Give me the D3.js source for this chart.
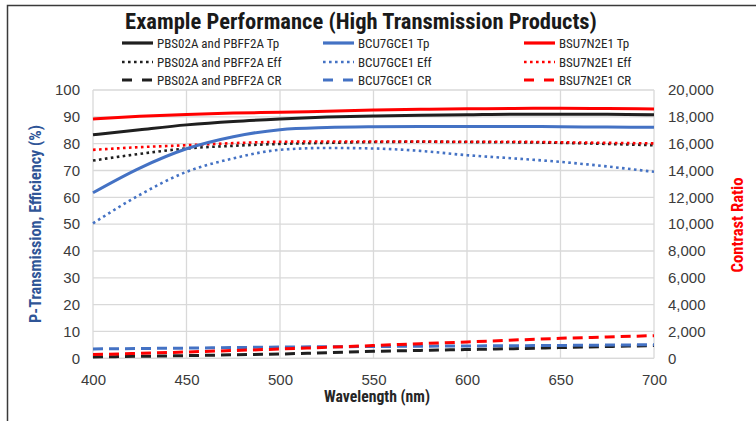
<!DOCTYPE html>
<html><head><meta charset="utf-8">
<script src="https://cdn.jsdelivr.net/npm/d3@7"></script>
<style>
html,body{margin:0;padding:0;background:#fff;}
svg{display:block;font-family:"Liberation Sans Narrow","Roboto Condensed","Liberation Sans",sans-serif;}
</style></head>
<body><svg id="c" width="756" height="421"></svg>
<script>
const wavelengths = [400,425,450,475,500,525,550,575,600,625,650,675,700];
const pbsTp  = [83.3,85.2,87.0,88.3,89.2,89.9,90.3,90.6,90.8,91.0,91.0,91.0,90.8];
const bcuTp  = [61.7,70.9,78.1,82.6,85.2,86.0,86.3,86.4,86.4,86.4,86.3,86.2,86.1];
const bsuTp  = [89.2,90.2,90.9,91.4,91.7,92.1,92.5,92.8,93.0,93.1,93.2,93.1,92.9];
const pbsEff = [73.7,76.2,78.2,79.2,79.9,80.3,80.6,80.7,80.6,80.5,80.3,79.9,79.4];
const bcuEff = [50.3,60.9,69.5,74.5,77.7,78.4,78.2,77.3,75.7,74.5,73.2,71.5,69.5];
const bsuEff = [77.7,78.7,79.4,80.2,80.7,80.8,80.8,80.8,80.7,80.7,80.5,80.3,80.1];
const pbsCR  = [100,150,200,260,320,420,520,590,650,720,800,880,950];
const bcuCR  = [700,730,760,800,840,860,880,900,920,940,960,985,1010];
const bsuCR  = [280,370,470,580,690,820,950,1090,1220,1360,1490,1590,1690];
const leftTicks = [0,10,20,30,40,50,60,70,80,90,100];
const rightTicks = [0,2000,4000,6000,8000,10000,12000,14000,16000,18000,20000];
const xTicks = [400,450,500,550,600,650,700];
const legendNames = ["PBS02A and PBFF2A Tp","BCU7GCE1 Tp","BSU7N2E1 Tp",
  "PBS02A and PBFF2A Eff","BCU7GCE1 Eff","BSU7N2E1 Eff",
  "PBS02A and PBFF2A CR","BCU7GCE1 CR","BSU7N2E1 CR"];

const BLACK="#1f1f1f", BLUE="#4472c4", RED="#ff0000";
const svg = d3.select("#c");
const L=93, R=654, T=90, B=358.3;
const x = d3.scaleLinear().domain([400,700]).range([L,R]);
const yL = d3.scaleLinear().domain([0,100]).range([B,T]);
const yR = d3.scaleLinear().domain([0,20000]).range([B,T]);

// fit a text's font size so that its width matches a target width
function fit(sel, target){
  const n = sel.node(); const w = n.getComputedTextLength();
  const fs = parseFloat(sel.attr("font-size"));
  if (w>0) sel.attr("font-size", (fs*target/w).toFixed(2));
  return sel;
}

// outer frame (cropped)
svg.append("path").attr("d","M7.5,421 V5.5 H756").attr("fill","none").attr("stroke","#3a3a3a").attr("stroke-width",1.5);

// gridlines
svg.append("g").selectAll("line").data(leftTicks).join("line")
  .attr("x1",L).attr("x2",R).attr("y1",d=>yL(d)).attr("y2",d=>yL(d))
  .attr("stroke","#d9d9d9").attr("stroke-width",1.3);
svg.append("g").selectAll("line").data(xTicks).join("line")
  .attr("x1",d=>x(d)).attr("x2",d=>x(d)).attr("y1",T).attr("y2",B)
  .attr("stroke","#d9d9d9").attr("stroke-width",1.3);

// axes
const ax = svg.append("g").attr("transform",`translate(0,${B})`)
  .call(d3.axisBottom(x).tickValues(xTicks).tickSize(0).tickPadding(16));
const al = svg.append("g").attr("transform",`translate(${L},0)`)
  .call(d3.axisLeft(yL).tickValues(leftTicks).tickSize(0).tickPadding(13));
const ar = svg.append("g").attr("transform",`translate(${R},0)`)
  .call(d3.axisRight(yR).tickValues(rightTicks).tickSize(0).tickPadding(14).tickFormat(d3.format(",")));
[ax,al,ar].forEach(g=>{g.select(".domain").remove();
  g.selectAll("text").attr("font-size",15).attr("fill","#3b3b3b").attr("font-family","inherit");});
svg.append("line").attr("x1",L).attr("x2",R).attr("y1",B).attr("y2",B).attr("stroke","#d9d9d9").attr("stroke-width",1.3);

// series
const series = [
  {v:pbsCR, s:"r", c:BLACK, t:"dash"},
  {v:bcuCR, s:"r", c:BLUE, t:"dash"},
  {v:bsuCR, s:"r", c:RED, t:"dash"},
  {v:bcuEff, s:"l", c:BLUE, t:"dot"},
  {v:pbsEff, s:"l", c:BLACK, t:"dot"},
  {v:bsuEff, s:"l", c:RED, t:"dot"},
  {v:bcuTp, s:"l", c:BLUE, t:"solid"},
  {v:pbsTp, s:"l", c:BLACK, t:"solid"},
  {v:bsuTp, s:"l", c:RED, t:"solid"}
];
const dash = {solid:null, dot:"2.6 3.4", dash:"10 6"};
series.forEach(sr=>{
  const ys = sr.s==="l"?yL:yR;
  const line = d3.line().x((d,i)=>x(wavelengths[i])).y(d=>ys(d)).curve(d3.curveMonotoneX);
  svg.append("path").attr("d",line(sr.v)).attr("fill","none")
    .attr("stroke",sr.c).attr("stroke-width",sr.t==="dot"?2.6:3)
    .attr("stroke-dasharray",dash[sr.t]);
});

// title
fit(svg.append("text").attr("x",361).attr("y",29).attr("text-anchor","middle")
  .attr("font-size",22).attr("font-weight","bold").attr("fill","#1a1a1a")
  .text("Example Performance (High Transmission Products)"), 472);

// legend
const colX=[122,323,524], rowY=[43,62,80];
const legCol=[BLACK,BLUE,RED];
legendNames.forEach((n,i)=>{
  const col=i%3,row=Math.floor(i/3);
  const lx=colX[col], ly=rowY[row];
  svg.append("line").attr("x1",lx).attr("x2",lx+31).attr("y1",ly).attr("y2",ly)
    .attr("stroke",legCol[col]).attr("stroke-width",row===1?2.6:3.2)
    .attr("stroke-dasharray",row===0?null:(row===1?"2.6 3.4":"10 10"));
  svg.append("text").attr("x",lx+35).attr("y",ly+4.5).attr("font-size",13)
    .attr("fill","#262626").text(n);
});

// axis titles
fit(svg.append("text").attr("x",377).attr("y",402).attr("text-anchor","middle")
  .attr("font-size",14).attr("font-weight","bold").attr("fill","#262626").text("Wavelength (nm)"), 106);
fit(svg.append("text").attr("transform","translate(41,224) rotate(-90)").attr("text-anchor","middle")
  .attr("font-size",15).attr("font-weight","bold").attr("fill","#2f5597").text("P-Transmission, Efficiency (%)"), 198);
fit(svg.append("text").attr("transform","translate(743,225) rotate(-90)").attr("text-anchor","middle")
  .attr("font-size",15).attr("font-weight","bold").attr("fill",RED).text("Contrast Ratio"), 95);
</script></body></html>
